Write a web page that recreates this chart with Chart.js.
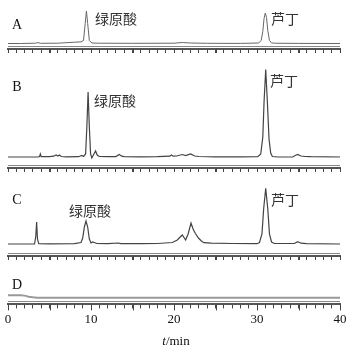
<!DOCTYPE html>
<html>
<head>
<meta charset="utf-8">
<script src="https://cdn.jsdelivr.net/npm/chart.js@4/dist/chart.umd.min.js"></script>
<style>
  body { margin: 0; width: 354px; height: 356px; background: #fff; position: relative; overflow: hidden; }
  canvas { position: absolute; left: 0; }
  .lbl { position: absolute; transform: translate(-50%, -50%); white-space: nowrap; line-height: 1; }
  .ltr { font: 14px 'Liberation Serif', serif; color: #111; }
  .cn { font: 14px 'Noto Sans CJK SC', sans-serif; color: #333; }
</style>
</head>
<body>
<canvas id="pA" width="354" height="53" style="top:0"></canvas>
<canvas id="pB" width="354" height="116" style="top:56px"></canvas>
<canvas id="pC" width="354" height="85" style="top:175px"></canvas>
<canvas id="pD" width="354" height="88" style="top:268px"></canvas>

<div class="lbl ltr" style="left:17px;top:25px">A</div>
<div class="lbl ltr" style="left:17px;top:87px">B</div>
<div class="lbl ltr" style="left:17px;top:200px">C</div>
<div class="lbl ltr" style="left:17px;top:285px">D</div>
<div class="lbl cn" style="left:116px;top:18px">绿原酸</div>
<div class="lbl cn" style="left:285px;top:18px">芦丁</div>
<div class="lbl cn" style="left:115px;top:100px">绿原酸</div>
<div class="lbl cn" style="left:284px;top:80px">芦丁</div>
<div class="lbl cn" style="left:90px;top:210px">绿原酸</div>
<div class="lbl cn" style="left:285px;top:199px">芦丁</div>
<div class="lbl ltr" style="left:176px;top:341px;font-size:13px"><i>t</i>/min</div>

<script>
// 保留时间 (min) 与相对信号 (各图基线为 0)
const timesA = [0, 1.5, 3.3, 3.6, 3.9, 6, 7, 8, 8.8, 9.1, 9.3, 9.45, 9.6, 9.8, 10.1, 11, 15, 20, 21, 22, 24, 28,
  30.2, 30.5, 30.7, 30.85, 31.0, 31.15, 31.3, 31.5, 31.75, 32.1, 35, 40];
const signalA = [0, 0, 0.3, 0.9, 0.2, 0.3, 0.8, 1.3, 1.6, 3, 20, 32.5, 20, 3, 0.5, 0.3, 0.2, 0.3, 1, 0.5, 0.2, 0.1,
  0.5, 3, 12, 25, 30.5, 26, 13, 3, 0.6, 0.3, 0.1, 0];

const timesB = [0, 3.6, 3.8, 3.9, 4.0, 5, 5.5, 5.8, 6.0, 6.2, 6.4, 7, 8.5, 8.9, 9.1, 9.35, 9.5, 9.65, 9.8, 9.95,
  10.1, 10.35, 10.55, 10.75, 11, 12, 13, 13.4, 13.7, 14, 16, 18, 19.5, 19.7, 19.9, 20.3, 21, 21.4, 22, 22.5, 23,
  25, 28, 30.1, 30.45, 30.7, 30.85, 31.05, 31.25, 31.45, 31.65, 31.85, 32.5, 34.3, 34.6, 34.9, 35.3, 35.8, 36.5, 40];
const signalB = [0, 0, 0.5, 3, 0.3, 0.3, 0.8, 2, 1, 2, 0.5, 0.2, 0.3, 1.5, 0.5, 3, 30, 65, 30, 3,
  -1, 3, 6, 2, 0.5, 0.3, 0.4, 2.5, 0.8, 0.3, 0.2, 0.3, 0.8, 2, 0.8, 1, 2.5, 1.5, 3, 1, 0.5,
  0.2, 0.1, 0.3, 3, 20, 55, 87.5, 55, 18, 4, 0.5, 0, 0, 1.5, 2.5, 1, 0.5, 0.3, 0];

const timesC = [0, 3.2, 3.35, 3.45, 3.55, 3.7, 5, 8, 8.8, 9.0, 9.2, 9.4, 9.6, 9.8, 10.0, 10.2, 10.4, 10.7, 12,
  13.3, 13.6, 16, 18, 19.8, 20.4, 20.8, 21.0, 21.4, 21.7, 22.05, 22.3, 22.56, 22.97, 23.3, 23.6, 24.5, 27, 30,
  30.3, 30.6, 30.8, 31.05, 31.3, 31.5, 31.75, 32.1, 34.5, 34.9, 35.3, 36, 40];
const signalC = [0, 0, 8, 22, 5, 0.3, 0.2, 0.3, 1.5, 6, 17, 23, 17, 5, 1, 2, 1.5, 0.5, 0.3,
  1, 0.3, 0.3, 0.5, 1.5, 4, 7.5, 9, 4, 10, 21, 15, 10.7, 5.7, 3, 1.3, 0.8, 0.5, 0.3,
  1.5, 10, 35, 55.7, 35, 10, 2, 0.5, 0.5, 2.3, 0.8, 0.3, 0];

const timesD = [0, 1.5, 2, 2.5, 3, 3.5, 5, 40];
const signalD = [2.7, 2.7, 2.4, 1.3, 0.6, 0.2, 0, 0];

const xTickLabels = [0, 10, 20, 30, 40];

// 轴线: 粗线上方细线 + 每 5 min 长刻度
const axisMarks = {
  id: 'axisMarks',
  afterDraw(chart) {
    const { ctx, chartArea, scales } = chart;
    const x = scales.x;
    ctx.save();
    ctx.lineWidth = 1;
    ctx.strokeStyle = '#888';
    ctx.beginPath();
    ctx.moveTo(chartArea.left, Math.round(chartArea.bottom) - 2.5);
    ctx.lineTo(chartArea.right, Math.round(chartArea.bottom) - 2.5);
    ctx.stroke();
    ctx.strokeStyle = '#444';
    ctx.beginPath();
    for (let v = 0; v <= 40; v += 5) {
      const px = Math.round(x.getPixelForValue(v)) + 0.5;
      ctx.moveTo(px, chartArea.bottom);
      ctx.lineTo(px, chartArea.bottom + 6);
    }
    ctx.stroke();
    ctx.restore();
  }
};

function makePanel(id, times, signal, yMin, yMax, opts = {}) {
  const points = times.map((t, i) => ({ x: t, y: signal[i] }));
  return new Chart(document.getElementById(id), {
    type: 'line',
    data: {
      datasets: [{
        data: points,
        borderColor: opts.color || '#444',
        borderWidth: opts.width || 1.2,
        pointRadius: 0,
        tension: 0,
        fill: false
      }]
    },
    options: {
      responsive: false,
      animation: false,
      devicePixelRatio: 1,
      layout: { padding: { left: 8, right: 14, top: 0, bottom: opts.padBottom || 0 } },
      plugins: { legend: { display: false }, tooltip: { enabled: false } },
      scales: {
        x: {
          type: 'linear',
          min: 0,
          max: 40,
          border: { display: true, color: '#555', width: 2 },
          grid: { drawOnChartArea: false, drawTicks: true, tickLength: 4, tickColor: '#444', tickWidth: 1 },
          ticks: {
            display: !!opts.labels,
            stepSize: 1,
            autoSkip: false,
            maxRotation: 0,
            padding: 3,
            color: '#111',
            font: { family: "'Liberation Serif', serif", size: 13 },
            callback: v => xTickLabels.includes(v) ? String(v) : ''
          }
        },
        y: { display: false, min: yMin, max: yMax }
      }
    },
    plugins: [axisMarks]
  });
}

makePanel('pA', timesA, signalA, -5.5, 43.5, { color: '#666', width: 1 });
makePanel('pB', timesB, signalB, -11, 101);
makePanel('pC', timesC, signalC, -12, 69);
makePanel('pD', timesD, signalD, -7, 32, { color: '#999', width: 2, labels: true, padBottom: 26 });
</script>
</body>
</html>
